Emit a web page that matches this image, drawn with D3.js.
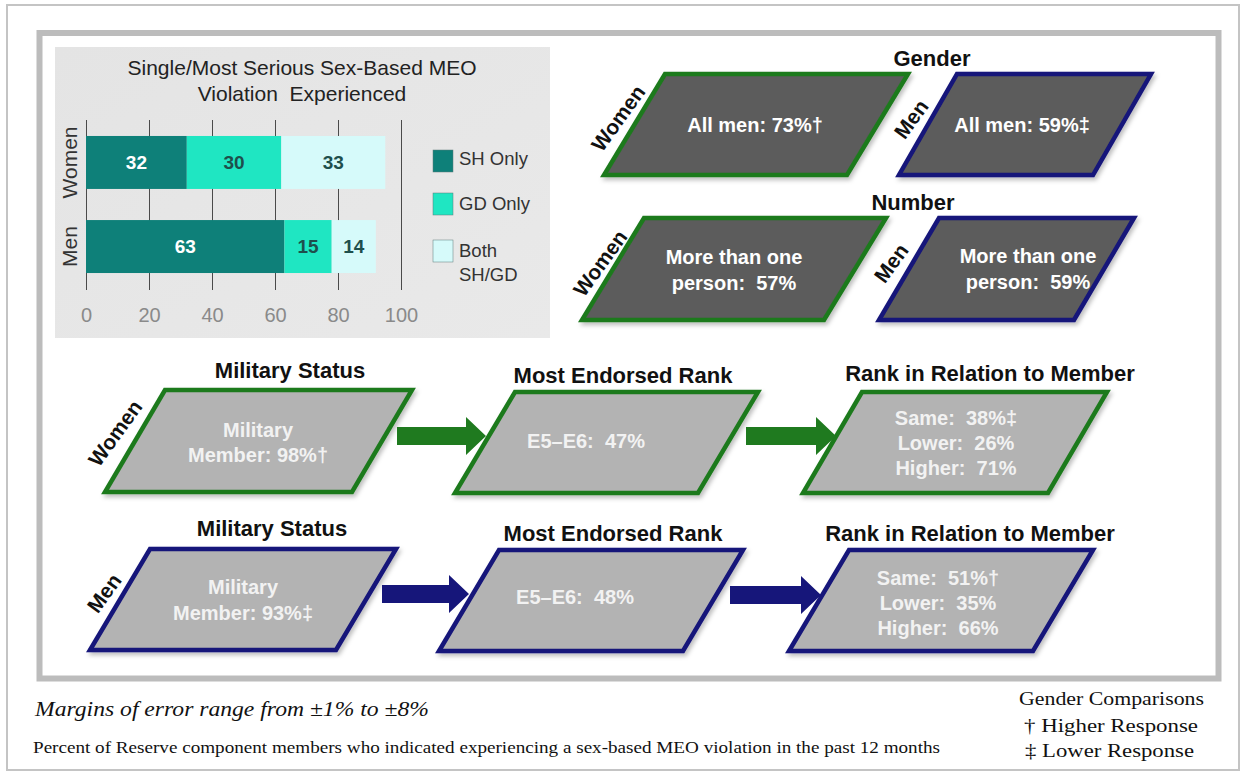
<!DOCTYPE html>
<html>
<head>
<meta charset="utf-8">
<script src="https://cdn.jsdelivr.net/npm/d3@7"></script>
<style>
  body { margin: 0; background: #fff; }
  svg { display: block; }
</style>
</head>
<body>
<div id="graphics"></div>
<script>
// stacked bar data
var categories = ["Women", "Men"];
var seriesNames = ["SH Only", "GD Only", "Both SH/GD"];
var shOnly = [32, 63];
var gdOnly = [30, 15];
var bothShGd = [33, 14];
var xTicks = [0, 20, 40, 60, 80, 100];

// flow boxes text
var genderText = ["All men: 73%\u2020", "All men: 59%\u2021"];
var numberText = [["More than one", "person:  57%"], ["More than one", "person:  59%"]];
var statusText = [["Military", "Member: 98%\u2020"], ["Military", "Member: 93%\u2021"]];
var rankText = ["E5\u2013E6:  47%", "E5\u2013E6:  48%"];
var relationText = [["Same:  38%\u2021", "Lower:  26%", "Higher:  71%"], ["Same:  51%\u2020", "Lower:  35%", "Higher:  66%"]];

var w = 1243, h = 778;
var green = "#1f7a1f", navy = "#16167a";
var darkFill = "#5b5b5b", lightFill = "#b3b3b3";
var sans = "'Liberation Sans', Arial, sans-serif";
var serif = "'Liberation Serif', 'Times New Roman', serif";

var svg = d3.select("#graphics").append("svg")
  .attr("width", w).attr("height", h);

var defs = svg.append("defs");
var sh = defs.append("filter").attr("id", "shadow")
  .attr("x", "-10%").attr("y", "-10%").attr("width", "130%").attr("height", "130%");
sh.append("feDropShadow").attr("dx", 2).attr("dy", 3).attr("stdDeviation", 2)
  .attr("flood-color", "#000").attr("flood-opacity", 0.25);

var panelGrad = defs.append("linearGradient").attr("id", "panel")
  .attr("x1", 0).attr("y1", 0).attr("x2", 1).attr("y2", 1);
panelGrad.append("stop").attr("offset", "0%").attr("stop-color", "#e4e4e4");
panelGrad.append("stop").attr("offset", "100%").attr("stop-color", "#e9e9e9");

// frames
svg.append("rect").attr("x", 7).attr("y", 5).attr("width", 1232).attr("height", 765)
  .attr("fill", "#fff").attr("stroke", "#c4c4c4").attr("stroke-width", 2);
svg.append("rect").attr("x", 39.5).attr("y", 33).attr("width", 1179).attr("height", 645.5)
  .attr("fill", "#fff").attr("stroke", "#bcbcbc").attr("stroke-width", 6);

// ---- bar chart ----
svg.append("rect").attr("x", 55).attr("y", 47).attr("width", 495).attr("height", 291)
  .attr("fill", "url(#panel)");

var x = d3.scaleLinear().domain([0, 100]).range([86, 401]);
var y = d3.scaleBand().domain(categories).range([120, 289]).paddingInner(0.37).paddingOuter(0.19);
var colors = d3.scaleOrdinal().domain(seriesNames).range(["#0e8079", "#1fe6c2", "#d6fafa"]);
var labelColors = ["#ffffff", "#1e4f4c", "#1e4f4c"];

var rows = categories.map(function(c, i) {
  return { cat: c, "SH Only": shOnly[i], "GD Only": gdOnly[i], "Both SH/GD": bothShGd[i] };
});
var stacked = d3.stack().keys(seriesNames)(rows);

svg.append("g")
  .attr("transform", "translate(0,290)")
  .call(d3.axisBottom(x).tickValues(xTicks).tickSize(-170).tickFormat(d3.format("d")))
  .call(function(g) {
    g.select(".domain").remove();
    g.selectAll(".tick line").attr("stroke", "#4a4a4a").attr("stroke-width", 1);
    g.selectAll(".tick text").attr("fill", "#8a8a8a").attr("font-size", "20px")
      .attr("font-family", sans).attr("y", 25).attr("dy", "0.36em");
  });

var layers = svg.selectAll(".layer").data(stacked).enter().append("g")
  .attr("fill", function(d) { return colors(d.key); });

layers.selectAll("rect").data(function(d) { return d; }).enter().append("rect")
  .attr("x", function(d) { return x(d[0]); })
  .attr("y", function(d) { return y(d.data.cat); })
  .attr("width", function(d) { return x(d[1]) - x(d[0]); })
  .attr("height", y.bandwidth());

stacked.forEach(function(layer, li) {
  svg.selectAll(".lbl" + li).data(layer).enter().append("text")
    .text(function(d) { return d[1] - d[0]; })
    .attr("x", function(d) { return (x(d[0]) + x(d[1])) / 2; })
    .attr("y", function(d) { return y(d.data.cat) + y.bandwidth() / 2; })
    .attr("dy", "0.36em")
    .attr("text-anchor", "middle")
    .attr("font-family", sans).attr("font-weight", "bold").attr("font-size", "19px")
    .attr("fill", labelColors[li]);
});

svg.selectAll(".cat").data(categories).enter().append("text")
  .text(function(d) { return d; })
  .attr("transform", function(d) {
    return "translate(77," + (y(d) + y.bandwidth() / 2) + ") rotate(-90)";
  })
  .attr("text-anchor", "middle")
  .attr("font-family", sans).attr("font-size", "21px").attr("fill", "#333");

svg.append("text").attr("x", 302).attr("y", 75).attr("text-anchor", "middle")
  .attr("font-family", sans).attr("font-size", "21px").attr("fill", "#222")
  .text("Single/Most Serious Sex-Based MEO");
svg.append("text").attr("x", 302).attr("y", 101).attr("text-anchor", "middle")
  .attr("font-family", sans).attr("font-size", "21px").attr("fill", "#222")
  .attr("xml:space", "preserve")
  .text("Violation  Experienced");

// legend
var legendY = [161, 204, 251];
seriesNames.forEach(function(s, i) {
  svg.append("rect").attr("x", 433).attr("y", legendY[i] - 11).attr("width", 20).attr("height", 22)
    .attr("fill", colors(s)).attr("stroke", "#5c7a78").attr("stroke-width", 0.5);
});
var legendText = [["SH Only", 165], ["GD Only", 210], ["Both", 257], ["SH/GD", 281]];
legendText.forEach(function(d) {
  svg.append("text").attr("x", 459).attr("y", d[1]).attr("font-family", sans)
    .attr("font-size", "18.5px").attr("fill", "#333").text(d[0]);
});

// ---- flow boxes ----
function para(x0, y0, bw, bh, skew, fill, stroke) {
  var path = d3.path();
  path.moveTo(x0, y0);
  path.lineTo(x0 + bw, y0);
  path.lineTo(x0 + bw - skew, y0 + bh);
  path.lineTo(x0 - skew, y0 + bh);
  path.closePath();
  svg.append("path").attr("d", path.toString())
    .attr("fill", fill).attr("stroke", stroke).attr("stroke-width", 4.5)
    .attr("stroke-linejoin", "miter").attr("filter", "url(#shadow)");
}

function lines(txt, cx, cy, color, step) {
  var arr = Array.isArray(txt) ? txt : [txt];
  var t = svg.append("text").attr("text-anchor", "middle")
    .attr("font-family", sans).attr("font-weight", "bold").attr("font-size", "20px")
    .attr("fill", color).attr("xml:space", "preserve");
  arr.forEach(function(s, i) {
    t.append("tspan").attr("x", cx)
      .attr("y", cy + (i - (arr.length - 1) / 2) * step)
      .attr("dy", "0.36em").text(s);
  });
}

function title(txt, cx, cy) {
  svg.append("text").attr("x", cx).attr("y", cy).attr("dy", "0.36em").attr("text-anchor", "middle")
    .attr("font-family", sans).attr("font-weight", "bold").attr("font-size", "22px")
    .attr("fill", "#111").text(txt);
}

function sideLabel(txt, cx, cy) {
  svg.append("text").attr("transform", "translate(" + cx + "," + cy + ") rotate(-54)")
    .attr("text-anchor", "middle").attr("dy", "0.36em")
    .attr("font-family", sans).attr("font-weight", "bold").attr("font-size", "21px")
    .attr("fill", "#111").text(txt);
}

function arrow(x0, cy, color, tipX) {
  var p = d3.path();
  p.moveTo(x0, cy - 9);
  p.lineTo(tipX - 20, cy - 9);
  p.lineTo(tipX - 20, cy - 19);
  p.lineTo(tipX, cy);
  p.lineTo(tipX - 20, cy + 19);
  p.lineTo(tipX - 20, cy + 9);
  p.lineTo(x0, cy + 9);
  p.closePath();
  svg.append("path").attr("d", p.toString()).attr("fill", color);
}

// gender
title("Gender", 932, 58);
para(665, 74, 243, 101, 61, darkFill, green);
para(957, 74, 194, 101, 58, darkFill, navy);
lines(genderText[0], 755, 125, "#fff", 26);
lines(genderText[1], 1022, 125, "#fff", 26);
sideLabel("Women", 618, 118);
sideLabel("Men", 911, 119);

// number
title("Number", 913, 202);
para(644, 218, 242, 102, 62, darkFill, green);
para(939, 218, 195, 102, 60, darkFill, navy);
lines(numberText[0], 734, 270, "#fff", 26);
lines(numberText[1], 1028, 269, "#fff", 26);
sideLabel("Women", 600, 263);
sideLabel("Men", 891, 263);

// women flow
title("Military Status", 290, 370);
title("Most Endorsed Rank", 623, 375);
title("Rank in Relation to Member", 990, 373);
para(165, 390, 247, 102, 60, lightFill, green);
para(515, 392, 243, 101, 60, lightFill, green);
para(862, 392, 245, 101, 59, lightFill, green);
arrow(397, 436, green, 486);
arrow(746, 436, green, 836);
lines(statusText[0], 258, 442, "#f2f2f2", 25);
lines(rankText[0], 586, 441, "#f2f2f2", 25);
lines(relationText[0], 956, 443, "#f2f2f2", 25);
sideLabel("Women", 115, 433);

// men flow
title("Military Status", 272, 528);
title("Most Endorsed Rank", 613, 533);
title("Rank in Relation to Member", 970, 533);
para(150, 549, 246, 101, 60, lightFill, navy);
para(499, 550, 244, 101, 60, lightFill, navy);
para(849, 550, 244, 101, 60, lightFill, navy);
arrow(382, 594, navy, 469);
arrow(730, 595, navy, 821);
lines(statusText[1], 243, 600, "#f2f2f2", 26);
lines(rankText[1], 575, 597, "#f2f2f2", 25);
lines(relationText[1], 938, 603, "#f2f2f2", 25);
sideLabel("Men", 104, 593);

// ---- footer ----
svg.append("text").attr("x", 35).attr("y", 716)
  .attr("font-family", serif).attr("font-style", "italic").attr("font-size", "20px")
  .attr("fill", "#111").attr("textLength", 394).attr("lengthAdjust", "spacingAndGlyphs")
  .text("Margins of error range from \u00b11% to \u00b18%");
svg.append("text").attr("x", 33).attr("y", 753)
  .attr("font-family", serif).attr("font-size", "16px")
  .attr("fill", "#111").attr("textLength", 907).attr("lengthAdjust", "spacingAndGlyphs")
  .text("Percent of Reserve component members who indicated experiencing a sex-based MEO violation in the past 12 months");
svg.append("text").attr("x", 1019).attr("y", 705)
  .attr("font-family", serif).attr("font-size", "19px").attr("fill", "#111")
  .attr("textLength", 185).attr("lengthAdjust", "spacingAndGlyphs")
  .text("Gender Comparisons");
svg.append("text").attr("x", 1024).attr("y", 732)
  .attr("font-family", serif).attr("font-size", "19px").attr("fill", "#111")
  .attr("textLength", 174).attr("lengthAdjust", "spacingAndGlyphs")
  .text("\u2020 Higher Response");
svg.append("text").attr("x", 1025).attr("y", 757)
  .attr("font-family", serif).attr("font-size", "19px").attr("fill", "#111")
  .attr("textLength", 169).attr("lengthAdjust", "spacingAndGlyphs")
  .text("\u2021 Lower Response");
</script>
</body>
</html>
